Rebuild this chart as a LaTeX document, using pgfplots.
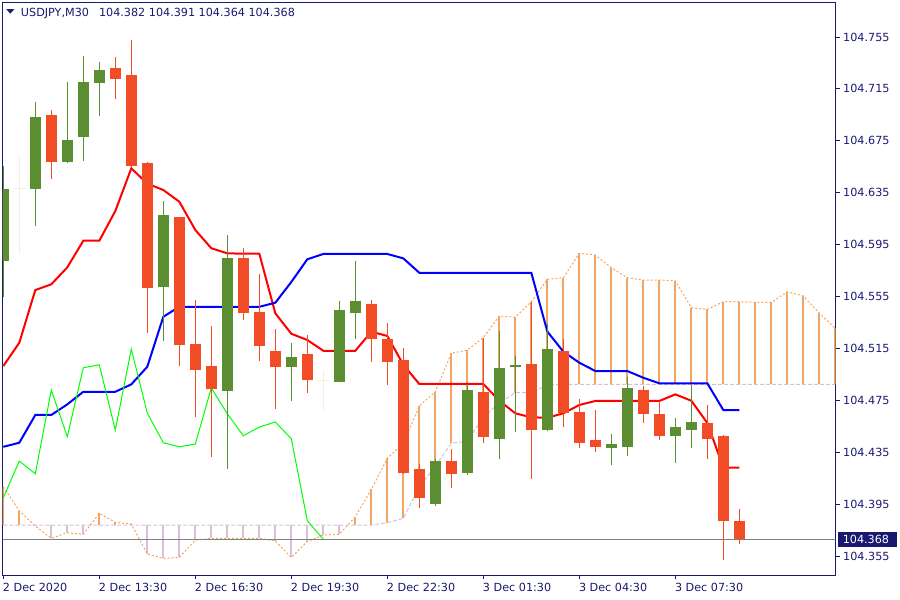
\documentclass[border=0pt]{standalone}
\usepackage{fontspec}
\setmainfont{DejaVu Sans}
\usepackage{graphicx}
\usepackage{pgfplots}
\usepackage{pgfplotstable}
\pgfplotsset{compat=1.18}

\definecolor{navyc}{RGB}{25,25,112}
\definecolor{upc}{RGB}{90,142,48}
\definecolor{dnc}{RGB}{242,76,39}
\definecolor{doji}{RGB}{246,236,226}
\definecolor{spanA}{RGB}{244,164,96}
\definecolor{spanB}{RGB}{216,191,216}
\definecolor{pricec}{RGB}{128,128,128}

% bar index, open, high, low, close (M30 bars)
\pgfplotstableread{
i o h l c
0 104.5826 104.6558 104.5549 104.6379
1 104.6379 104.6635 104.5875 104.6379
2 104.6379 104.7051 104.6093 104.6933
3 104.6949 104.6987 104.6456 104.6589
4 104.6589 104.7206 104.6577 104.6756
5 104.6782 104.7404 104.6597 104.7206
6 104.7198 104.7357 104.6943 104.7296
7 104.7311 104.7396 104.7072 104.7226
8 104.7255 104.7527 104.6548 104.6558
9 104.6577 104.6590 104.5271 104.5618
10 104.5626 104.6286 104.5209 104.6178
11 104.6163 104.6165 104.5014 104.5179
12 104.5184 104.5523 104.4624 104.4986
13 104.5014 104.5323 104.4315 104.4837
14 104.4824 104.6024 104.4223 104.5847
15 104.5847 104.5924 104.5369 104.5425
16 104.5431 104.5723 104.5055 104.5171
17 104.5130 104.5300 104.4683 104.5009
18 104.5009 104.5189 104.4747 104.5084
19 104.5107 104.5253 104.4809 104.4909
20 104.4899 104.4983 104.4675 104.4899
21 104.4893 104.5515 104.4890 104.5446
22 104.5425 104.5824 104.5220 104.5515
23 104.5492 104.5523 104.5048 104.5225
24 104.5222 104.5346 104.4870 104.5048
25 104.5061 104.5155 104.4182 104.4192
26 104.4221 104.4257 104.3922 104.3999
27 104.3949 104.4297 104.3935 104.4282
28 104.4282 104.4372 104.4076 104.4184
29 104.4192 104.4876 104.4174 104.4829
30 104.4814 104.5233 104.4423 104.4470
31 104.4454 104.5284 104.4300 104.5001
32 104.5009 104.5091 104.4508 104.5024
33 104.5030 104.5505 104.4146 104.4521
34 104.4521 104.5336 104.4513 104.5145
35 104.5130 104.5222 104.4547 104.4652
36 104.4660 104.4760 104.4385 104.4423
37 104.4444 104.4675 104.4354 104.4392
38 104.4385 104.4493 104.4251 104.4413
39 104.4392 104.4932 104.4321 104.4845
40 104.4829 104.4863 104.4577 104.4647
41 104.4647 104.4747 104.4444 104.4477
42 104.4477 104.4614 104.4269 104.4544
43 104.4521 104.4868 104.4385 104.4583
44 104.4575 104.4714 104.4298 104.4454
45 104.4477 104.4485 104.3519 104.3822
46 104.382 104.391 104.364 104.368
}\candles

% tenkan-sen, kijun-sen
\pgfplotstableread{
i t k
0 104.5014 104.4392
1 104.5194 104.4423
2 104.5600 104.4637
3 104.5644 104.4637
4 104.5775 104.4719
5 104.5980 104.4816
6 104.5980 104.4816
7 104.6209 104.4816
8 104.6538 104.4873
9 104.6420 104.5009
10 104.6371 104.5394
11 104.6281 104.5471
12 104.6063 104.5471
13 104.5922 104.5471
14 104.5883 104.5471
15 104.5880 104.5471
16 104.5880 104.5471
17 104.5421 104.5502
18 104.5263 104.5662
19 104.5215 104.5837
20 104.5132 104.5878
21 104.5132 104.5878
22 104.5132 104.5878
23 104.5279 104.5878
24 104.5246 104.5878
25 104.5024 104.5844
26 104.4876 104.5733
27 104.4876 104.5733
28 104.4876 104.5733
29 104.4876 104.5733
30 104.4876 104.5733
31 104.4747 104.5733
32 104.4650 104.5733
33 104.4619 104.5733
34 104.4616 104.5280
35 104.4650 104.5125
36 104.4714 104.5040
37 104.4745 104.4976
38 104.4745 104.4976
39 104.4745 104.4976
40 104.4745 104.4924
41 104.4745 104.4881
42 104.4796 104.4881
43 104.4747 104.4881
44 104.4575 104.4881
45 104.4231 104.4675
46 104.4231 104.4675
}\lines

% chikou span (close shifted back 26 bars)
\pgfplotstableread{
i c
0 104.3999
1 104.4282
2 104.4184
3 104.4829
4 104.4470
5 104.5001
6 104.5024
7 104.4521
8 104.5145
9 104.4652
10 104.4423
11 104.4392
12 104.4413
13 104.4845
14 104.4647
15 104.4477
16 104.4544
17 104.4583
18 104.4454
19 104.3822
20 104.368
}\chikou

% senkou span A and B (shifted forward)
\pgfplotstableread{
i a b
0 104.4084 104.3789
1 104.3899 104.3789
2 104.3781 104.3789
3 104.3686 104.3789
4 104.3730 104.3789
5 104.3717 104.3789
6 104.3879 104.3789
7 104.3810 104.3789
8 104.3797 104.3789
9 104.3565 104.3789
10 104.3532 104.3789
11 104.3540 104.3789
12 104.3673 104.3789
13 104.3686 104.3789
14 104.3686 104.3789
15 104.3686 104.3789
16 104.3686 104.3789
17 104.3666 104.3789
18 104.3539 104.3789
19 104.3661 104.3789
20 104.3712 104.3789
21 104.3717 104.3789
22 104.3853 104.3789
23 104.4064 104.3789
24 104.4303 104.3807
25 104.4419 104.3841
26 104.4706 104.4084
27 104.4816 104.4244
28 104.5112 104.4419
29 104.5138 104.4436
30 104.5233 104.4620
31 104.5400 104.4730
32 104.5390 104.4809
33 104.5510 104.4809
34 104.5683 104.4868
35 104.5695 104.4873
36 104.5883 104.4873
37 104.5870 104.4873
38 104.5772 104.4873
39 104.5695 104.4873
40 104.5677 104.4873
41 104.5677 104.4873
42 104.5672 104.4873
43 104.5464 104.4873
44 104.5451 104.4873
45 104.5510 104.4873
46 104.5510 104.4873
47 104.5505 104.4873
48 104.5505 104.4873
49 104.5587 104.4873
50 104.5554 104.4873
51 104.5421 104.4873
52 104.5305 104.4873
}\cloud

\newcommand\tfont{\fontsize{8.4pt}{10pt}\selectfont}

\begin{document}
\begin{tikzpicture}
\useasboundingbox (0,0) rectangle (675pt,450pt);
\begin{axis}[
  at={(1.875pt,18.375pt)}, anchor=south west,
  scale only axis, width=624.75pt, height=429.75pt,
  xmin=-0.05, xmax=52.01, ymin=104.3400, ymax=104.7816,
  axis line style={navyc, line width=0.75pt},
  tick style={navyc, line width=0.75pt},
  tick align=outside, major tick length=3pt,
  xtick pos=bottom, ytick pos=right, yticklabel pos=right,
  scaled x ticks=false, scaled y ticks=false,
  xtick={0,6,12,18,24,30,36,42},
  xticklabels={2 Dec 2020,2 Dec 13:30,2 Dec 16:30,2 Dec 19:30,2 Dec 22:30,3 Dec 01:30,3 Dec 04:30,3 Dec 07:30},
  ytick={104.355,104.395,104.435,104.475,104.515,104.555,104.595,104.635,104.675,104.715,104.755},
  yticklabels={104.355,104.395,104.435,104.475,104.515,104.555,104.595,104.635,104.675,104.715,104.755},
  tick label style={font=\tfont, text=navyc, inner sep=0pt},
  xticklabel style={anchor=north west, xshift=-0.45pt, yshift=-2.85pt},
  yticklabel style={anchor=west, xshift=2.6pt},
  extra y ticks={104.368},
  extra y tick labels={\hspace*{3.75pt}104.368\hspace*{6pt}},
  extra y tick style={major tick length=0pt,
    yticklabel style={fill=navyc, text=white, minimum height=11.25pt, xshift=-1.1pt}},
]
% cloud hatching
\pgfplotsforeachungrouped \k in {0,...,52}{%
  \pgfplotstablegetelem{\k}{a}\of\cloud\let\ca\pgfplotsretval
  \pgfplotstablegetelem{\k}{b}\of\cloud\let\cb\pgfplotsretval
  \ifdim\ca pt>\cb pt \def\hcol{spanA}\else\def\hcol{spanB}\fi
  \edef\cmd{\noexpand\addplot[\hcol, line width=1.5pt, forget plot] coordinates {(\k,\ca) (\k,\cb)};}%
  \cmd
}
\addplot[spanA, line width=0.75pt, dash pattern=on 1.5pt off 1.5pt] table[x=i, y=a] {\cloud};
\addplot[spanB, line width=0.75pt, dash pattern=on 3pt off 1.5pt] table[x=i, y=b] {\cloud};
\addplot[red, line width=1.5pt] table[x=i, y=t] {\lines};
\addplot[blue, line width=1.5pt] table[x=i, y=k] {\lines};
\addplot[green, line width=0.75pt] table[x=i, y=c] {\chikou};
\addplot[pricec, line width=0.75pt] coordinates {(-1,104.368) (53,104.368)};
% candles
\pgfplotsforeachungrouped \k in {0,...,46}{%
  \pgfplotstablegetelem{\k}{o}\of\candles\let\co\pgfplotsretval
  \pgfplotstablegetelem{\k}{h}\of\candles\let\ch\pgfplotsretval
  \pgfplotstablegetelem{\k}{l}\of\candles\let\cl\pgfplotsretval
  \pgfplotstablegetelem{\k}{c}\of\candles\let\cc\pgfplotsretval
  \ifdim\co pt<\cc pt \def\ccol{upc}\def\cdoji{0}\else
    \ifdim\co pt>\cc pt \def\ccol{dnc}\def\cdoji{0}\else\def\ccol{doji}\def\cdoji{1}\fi\fi
  \edef\cmd{%
    \noexpand\addplot[\ccol, line width=0.75pt, forget plot] coordinates {(\k,\cl) (\k,\ch)};%
    \noexpand\addplot[\ccol, line width=8.25pt, forget plot] coordinates {(\k,\co) (\k,\cc)};%
  }\cmd
  \if1\cdoji
    \edef\cmd{\noexpand\addplot[\ccol, only marks, mark=-, mark size=4.125pt,
      mark options={line width=0.75pt}, forget plot] coordinates {(\k,\co)};}\cmd
  \fi
}
\node[anchor=center, inner sep=0pt, text=navyc] at ([xshift=6pt, yshift=-7.1pt]rel axis cs:0,1)
  {\scalebox{1}[0.55]{\tfont ▼}};
\node[anchor=base west, inner sep=0pt, text=navyc, font=\tfont] at ([xshift=13.65pt, yshift=-10.65pt]rel axis cs:0,1)
  {USDJPY,M30\hspace{7.5pt}104.382 104.391 104.364 104.368};
\end{axis}
\end{tikzpicture}
\end{document}
